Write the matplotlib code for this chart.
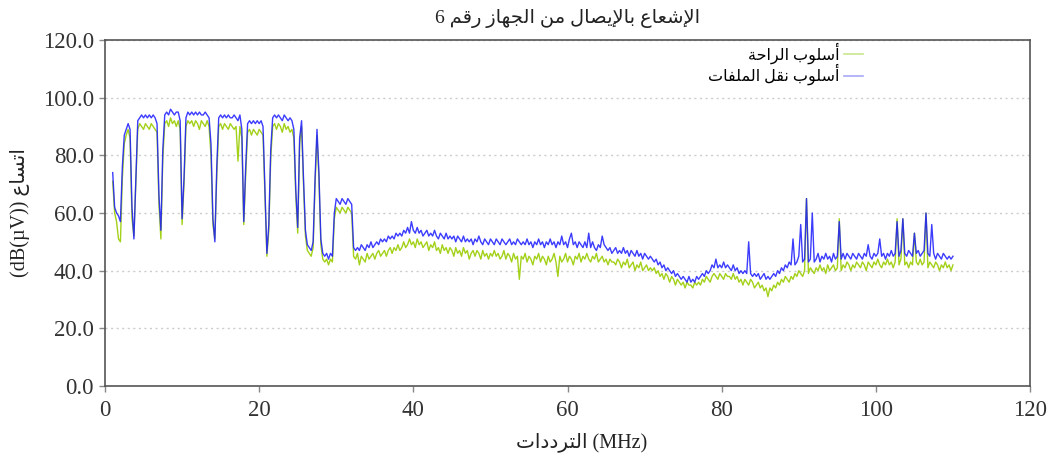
import numpy as np
import matplotlib
matplotlib.use("Agg")
import matplotlib.pyplot as plt
from matplotlib.lines import Line2D

plt.rcParams['font.family'] = ['Liberation Serif', 'DejaVu Sans']

# frequency grid of the two sweeps (MHz)
freq_start = 1.0
freq_step = 0.25

# level in dB(uV), file-transfer mode (blue)
level_transfer = [
    74, 62, 60, 59, 57, 76, 87, 89, 91, 89, 62, 51, 72, 92, 93, 94, 93, 94, 93, 94,
    93, 94, 93, 91, 66, 54, 82, 94, 95, 94, 96, 95, 94, 95, 95, 92, 58, 72, 93, 95,
    94, 95, 94, 95, 94, 95, 94, 94, 95, 94, 93, 84, 58, 50, 76, 93, 94, 93, 94, 93,
    94, 93, 93, 94, 93, 92, 94, 89, 57, 76, 91, 92, 91, 92, 91, 92, 91, 92, 90, 68,
    46, 56, 82, 93, 94, 93, 94, 93, 92, 94, 93, 92, 93, 92, 89, 68, 55, 86, 92, 72,
    54, 49, 48, 47, 50, 72, 89, 74, 51, 46, 45, 46, 44, 46, 45, 60, 65, 64, 63, 65,
    64, 63, 65, 64, 63, 48, 47, 48, 47, 49, 48, 47, 49, 48, 50, 48, 49, 50, 49, 51,
    50, 51, 50, 52, 51, 52, 51, 53, 52, 53, 52, 54, 53, 55, 53, 57, 54, 53, 55, 53,
    54, 52, 53, 54, 52, 53, 52, 54, 52, 51, 53, 52, 51, 53, 51, 52, 51, 52, 50, 52,
    51, 50, 52, 50, 51, 50, 51, 49, 51, 50, 52, 50, 49, 51, 50, 49, 51, 50, 49, 51,
    50, 49, 51, 50, 49, 50, 51, 49, 50, 49, 51, 50, 49, 50, 49, 51, 49, 50, 48, 50,
    49, 51, 49, 50, 48, 50, 49, 51, 49, 50, 48, 50, 49, 52, 49, 50, 48, 51, 53, 49,
    50, 48, 50, 49, 48, 50, 48, 53, 48, 50, 48, 47, 49, 48, 52, 49, 48, 47, 48, 46,
    47, 48, 46, 47, 46, 48, 46, 47, 45, 47, 46, 45, 47, 45, 46, 44, 46, 45, 44, 45,
    44, 43, 44, 42, 43, 41, 42, 40, 41, 40, 39, 40, 38, 39, 38, 37, 38, 37, 36, 38,
    36, 37, 36, 38, 37, 38, 39, 38, 40, 39, 40, 42, 41, 44, 41, 42, 41, 43, 41, 42,
    41, 40, 42, 40, 41, 39, 40, 39, 40, 39, 50, 39, 38, 39, 38, 39, 37, 38, 39, 37,
    38, 37, 38, 39, 38, 40, 39, 41, 40, 42, 41, 43, 42, 51, 42, 43, 45, 56, 43, 44,
    65, 43, 44, 60, 43, 44, 46, 43, 45, 44, 46, 44, 45, 43, 46, 44, 45, 57, 44, 46,
    44, 46, 45, 44, 46, 45, 44, 46, 45, 44, 46, 45, 49, 45, 44, 46, 45, 46, 51, 45,
    46, 44, 46, 45, 47, 45, 46, 57, 45, 47, 58, 46, 45, 47, 46, 45, 53, 46, 47, 45,
    46, 47, 60, 46, 45, 56, 46, 44, 46, 45, 44, 46, 45, 44, 45, 44, 45,
]

# level in dB(uV), idle mode (green)
level_idle = [
    71, 60, 57, 51, 50, 72, 84, 87, 89, 86, 58, 52, 70, 89, 91, 90, 89, 91, 90, 89,
    91, 90, 89, 88, 63, 51, 79, 91, 92, 90, 93, 91, 92, 90, 92, 89, 56, 70, 90, 92,
    91, 92, 90, 92, 91, 89, 92, 91, 90, 92, 90, 80, 56, 51, 73, 90, 91, 89, 91, 90,
    89, 91, 90, 89, 90, 78, 90, 86, 56, 73, 88, 89, 87, 89, 88, 87, 89, 88, 87, 66,
    45, 54, 79, 90, 91, 89, 91, 90, 88, 91, 89, 90, 88, 89, 86, 66, 53, 84, 90, 70,
    52, 47, 46, 45, 48, 70, 87, 72, 49, 44, 43, 44, 42, 44, 43, 58, 62, 61, 60, 62,
    61, 60, 62, 61, 60, 45, 44, 46, 42, 45, 44, 43, 46, 44, 45, 46, 44, 46, 47, 45,
    46, 47, 45, 47, 48, 46, 48, 47, 49, 47, 48, 50, 48, 49, 51, 49, 50, 48, 51, 49,
    50, 48, 49, 50, 47, 49, 48, 50, 47, 48, 46, 49, 47, 48, 46, 48, 47, 45, 48, 46,
    47, 45, 48, 46, 47, 44, 46, 47, 45, 47, 46, 44, 47, 45, 46, 44, 46, 45, 47, 45,
    46, 44, 45, 47, 44, 46, 45, 43, 46, 44, 45, 37, 45, 44, 46, 43, 45, 44, 42, 45,
    44, 46, 43, 45, 44, 42, 45, 43, 44, 46, 43, 38, 45, 43, 44, 46, 43, 45, 44, 42,
    45, 44, 46, 43, 45, 44, 46, 44, 43, 45, 44, 46, 43, 44, 45, 43, 44, 42, 44, 43,
    43, 42, 44, 43, 41, 43, 42, 44, 41, 42, 43, 40, 42, 41, 43, 40, 41, 42, 40, 41,
    40, 41, 39, 40, 38, 39, 37, 39, 38, 36, 38, 37, 35, 37, 36, 35, 36, 34, 36, 35,
    35, 34, 36, 35, 36, 35, 37, 36, 38, 37, 36, 38, 39, 38, 37, 39, 38, 37, 39, 38,
    38, 37, 39, 37, 38, 36, 37, 35, 37, 36, 35, 37, 36, 34, 35, 36, 34, 35, 33, 34,
    31, 34, 33, 35, 34, 36, 35, 37, 36, 38, 37, 36, 38, 37, 39, 38, 40, 39, 38, 40,
    65, 39, 41, 40, 39, 41, 40, 42, 40, 41, 39, 42, 40, 41, 42, 40, 41, 58, 40, 42,
    41, 43, 42, 40, 42, 41, 43, 42, 41, 43, 42, 40, 43, 42, 41, 43, 42, 44, 42, 41,
    43, 42, 44, 42, 43, 41, 43, 58, 42, 44, 58, 42, 43, 41, 43, 42, 53, 43, 42, 44,
    42, 43, 60, 41, 43, 42, 41, 43, 42, 40, 42, 41, 43, 41, 42, 40, 42,
]

# texts in logical (reading) order
title_words = ["الإشعاع", "بالإيصال", "من", "الجهاز", "رقم", "6"]
xlabel_arabic = "الترددات"
xlabel_unit = "(MHz)"
ylabel_arabic = "اتساع"
ylabel_unit = "(dB(µV))"
label_idle = ["أسلوب", "الراحة"]
label_transfer = ["أسلوب", "نقل", "الملفات"]

xticks = [0, 20, 40, 60, 80, 100, 120]
yticks = [0, 20, 40, 60, 80, 100, 120]

# matplotlib does no Arabic shaping, so pick presentation forms by hand
# (isolated form code, joins to the following letter)
FORMS = {
    'ا': (0xFE8D, False), 'أ': (0xFE83, False), 'إ': (0xFE87, False),
    'ب': (0xFE8F, True), 'ة': (0xFE93, False), 'ت': (0xFE95, True),
    'ج': (0xFE9D, True), 'ح': (0xFEA1, True), 'د': (0xFEA9, False),
    'ر': (0xFEAD, False), 'ز': (0xFEAF, False), 'س': (0xFEB1, True),
    'ش': (0xFEB5, True), 'ص': (0xFEB9, True), 'ع': (0xFEC9, True),
    'ف': (0xFED1, True), 'ق': (0xFED5, True), 'ل': (0xFEDD, True),
    'م': (0xFEE1, True), 'ن': (0xFEE5, True), 'ه': (0xFEE9, True),
    'و': (0xFEED, False), 'ي': (0xFEF1, True),
    'لا': (0xFEFB, False), 'لأ': (0xFEF7, False), 'لإ': (0xFEF9, False),
}


def shape_word(word):
    if word[0] not in FORMS:
        return word
    units = []
    i = 0
    while i < len(word):
        if len(word[i:i + 2]) == 2 and word[i:i + 2] in FORMS:
            units.append(word[i:i + 2])
            i += 2
        else:
            units.append(word[i])
            i += 1
    out = []
    for k, u in enumerate(units):
        iso, dual = FORMS[u]
        joins_prev = k > 0 and FORMS[units[k - 1]][1]
        joins_next = dual and k + 1 < len(units)
        if joins_prev and joins_next:
            code = iso + 3
        elif joins_next:
            code = iso + 2
        elif joins_prev:
            code = iso + 1
        else:
            code = iso
        out.append(chr(code))
    return ''.join(reversed(out))


def rtl(words):
    # right-to-left run: last word ends up on the left
    return ' '.join(shape_word(w) for w in reversed(words))


freq = freq_start + freq_step * np.arange(len(level_transfer))

fig = plt.figure(figsize=(10.5, 4.58), dpi=100)
ax = fig.add_axes([0.1, 0.1572, 0.881, 0.7555])

ax.plot(freq, level_idle, color='#99cc00', lw=1.0, alpha=0.9)
ax.plot(freq, level_transfer, color='#1a1aff', lw=1.0, alpha=0.85)

ax.set_xlim(0, 120)
ax.set_ylim(0, 120)
ax.set_xticks(xticks)
ax.set_yticks(yticks)
ax.set_yticklabels([f"{v:.1f}" for v in yticks])
ax.tick_params(labelsize=16.5, colors='#888888', labelcolor='#333333',
               direction='out', length=4, width=1, pad=4)
ax.tick_params(axis='x', pad=6)
ax.yaxis.grid(True, color='#cccccc', linestyle=(0, (1.5, 2.5)), lw=1)
ax.set_axisbelow(True)
for s in ax.spines.values():
    s.set_color('#555555')
    s.set_linewidth(1.2)

ax.set_title(rtl(title_words), fontsize=14, pad=12, color='#222222')
ax.set_xlabel(shape_word(xlabel_arabic) + ' ' + xlabel_unit,
              fontsize=14.5, labelpad=4, color='#222222')
ax.xaxis.set_label_coords(0.515, -0.135)
ax.set_ylabel(ylabel_unit + ' ' + shape_word(ylabel_arabic),
              fontsize=14.5, labelpad=9, color='#222222')

handles = [Line2D([], [], color='#c8e68c', lw=1.2),
           Line2D([], [], color='#a8a8f8', lw=1.2)]
ax.legend(handles, [rtl(label_idle), rtl(label_transfer)],
          loc='upper right', bbox_to_anchor=(0.83, 1.02), frameon=False,
          markerfirst=False, fontsize=11.5, handlelength=1.2,
          handletextpad=0.3, labelspacing=0.0, borderaxespad=0.2)

fig.savefig('out.png', dpi=100)
